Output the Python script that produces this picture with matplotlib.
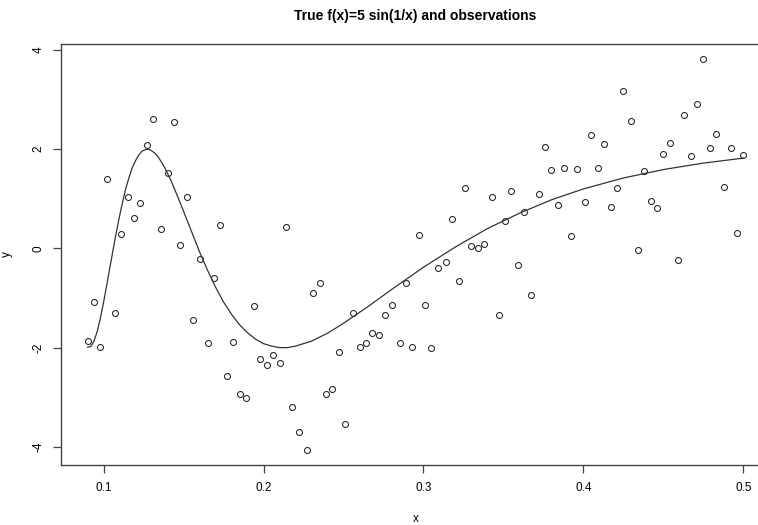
import matplotlib
matplotlib.use("Agg")
import matplotlib.pyplot as plt

plt.rcParams['font.family'] = ['Liberation Sans', 'DejaVu Sans']

# observations
obs_x = [0.090, 0.094, 0.098, 0.102, 0.107, 0.111, 0.115, 0.119, 0.123, 0.127,
         0.131, 0.136, 0.140, 0.144, 0.148, 0.152, 0.156, 0.160, 0.165, 0.169,
         0.173, 0.177, 0.181, 0.185, 0.189, 0.194, 0.198, 0.202, 0.206, 0.210,
         0.214, 0.218, 0.222, 0.227, 0.231, 0.235, 0.239, 0.243, 0.247, 0.251,
         0.256, 0.260, 0.264, 0.268, 0.272, 0.276, 0.280, 0.285, 0.289, 0.293,
         0.297, 0.301, 0.305, 0.309, 0.314, 0.318, 0.322, 0.326, 0.330, 0.334,
         0.338, 0.343, 0.347, 0.351, 0.355, 0.359, 0.363, 0.367, 0.372, 0.376,
         0.380, 0.384, 0.388, 0.392, 0.396, 0.401, 0.405, 0.409, 0.413, 0.417,
         0.421, 0.425, 0.430, 0.434, 0.438, 0.442, 0.446, 0.450, 0.454, 0.459,
         0.463, 0.467, 0.471, 0.475, 0.479, 0.483, 0.488, 0.492, 0.496, 0.500]
obs_y = [-1.86, -1.08, -1.99, 1.39, -1.31, 0.29, 1.04, 0.62, 0.91, 2.08,
         2.60, 0.39, 1.53, 2.55, 0.07, 1.03, -1.44, -0.21, -1.91, -0.59,
         0.47, -2.57, -1.89, -2.94, -3.01, -1.17, -2.23, -2.36, -2.14, -2.32,
         0.43, -3.20, -3.70, -4.06, -0.89, -0.70, -2.93, -2.83, -2.09, -3.54,
         -1.30, -1.98, -1.91, -1.71, -1.75, -1.35, -1.14, -1.90, -0.70, -1.98,
         0.28, -1.14, -2.00, -0.39, -0.27, 0.60, -0.65, 1.22, 0.05, 0.01,
         0.09, 1.04, -1.34, 0.56, 1.16, -0.34, 0.73, -0.93, 1.09, 2.04,
         1.58, 0.88, 1.63, 0.26, 1.61, 0.94, 2.28, 1.63, 2.10, 0.84,
         1.22, 3.17, 2.57, -0.04, 1.57, 0.96, 0.82, 1.90, 2.13, -0.23,
         2.69, 1.86, 2.91, 3.81, 2.03, 2.30, 1.24, 2.02, 0.32, 1.88]

# true curve
curve_x = [0.090, 0.092, 0.094, 0.096, 0.098, 0.100, 0.102, 0.104, 0.106, 0.108,
           0.110, 0.112, 0.114, 0.116, 0.118, 0.120, 0.122, 0.124, 0.126, 0.128,
           0.130, 0.132, 0.134, 0.136, 0.138, 0.142, 0.146, 0.150, 0.155, 0.160,
           0.165, 0.170, 0.175, 0.180, 0.185, 0.190, 0.195, 0.200, 0.205, 0.210,
           0.215, 0.220, 0.230, 0.240, 0.250, 0.265, 0.280, 0.300, 0.320, 0.340,
           0.360, 0.380, 0.400, 0.425, 0.450, 0.475, 0.500]
curve_y = [-1.99, -1.98, -1.87, -1.68, -1.41, -1.09, -0.74, -0.38, -0.02, 0.33,
           0.65, 0.95, 1.22, 1.44, 1.63, 1.77, 1.88, 1.96, 1.99, 2.00,
           1.97, 1.92, 1.85, 1.75, 1.64, 1.38, 1.07, 0.75, 0.34, -0.07,
           -0.44, -0.78, -1.08, -1.33, -1.54, -1.70, -1.83, -1.92, -1.97, -2.00,
           -2.00, -1.97, -1.87, -1.71, -1.51, -1.18, -0.83, -0.38, 0.03, 0.40,
           0.71, 0.98, 1.20, 1.42, 1.59, 1.72, 1.82]

x_ticks = [0.1, 0.2, 0.3, 0.4, 0.5]
y_ticks = [-4, -2, 0, 2, 4]

fig = plt.figure(figsize=(7.58, 5.25), dpi=100)
fig.patch.set_facecolor('white')
# right edge of the box runs off the canvas, like the original
ax = fig.add_axes([61/758, 60/525, 709/758, 421.5/525])

ax.plot(obs_x, obs_y, linestyle='none', marker='o', markersize=4.3,
        markerfacecolor='none', markeredgecolor='#222222', markeredgewidth=0.75)
ax.plot(curve_x, curve_y, color='#333333', linewidth=0.9)

ax.set_xlim(0.0734, 0.5166)
ax.set_ylim(-4.367, 4.131)

ax.set_xticks(x_ticks)
ax.set_xticklabels([str(t) for t in x_ticks])
ax.set_yticks(y_ticks)
ax.set_yticklabels([str(t) for t in y_ticks], rotation=90, va='center')
ax.tick_params(direction='out', length=6, width=0.9, color='#444444',
               labelsize=8.5, pad=6)

for s in ax.spines.values():
    s.set_color('#444444')
    s.set_linewidth(1.0)

ax.set_xlabel('x', fontsize=8.5, labelpad=14)
ax.set_ylabel('y', fontsize=8.5, labelpad=14)
ax.set_title('True f(x)=5 sin(1/x) and observations', fontsize=10,
             fontweight='bold', pad=17)

fig.savefig('out.png', dpi=100)
